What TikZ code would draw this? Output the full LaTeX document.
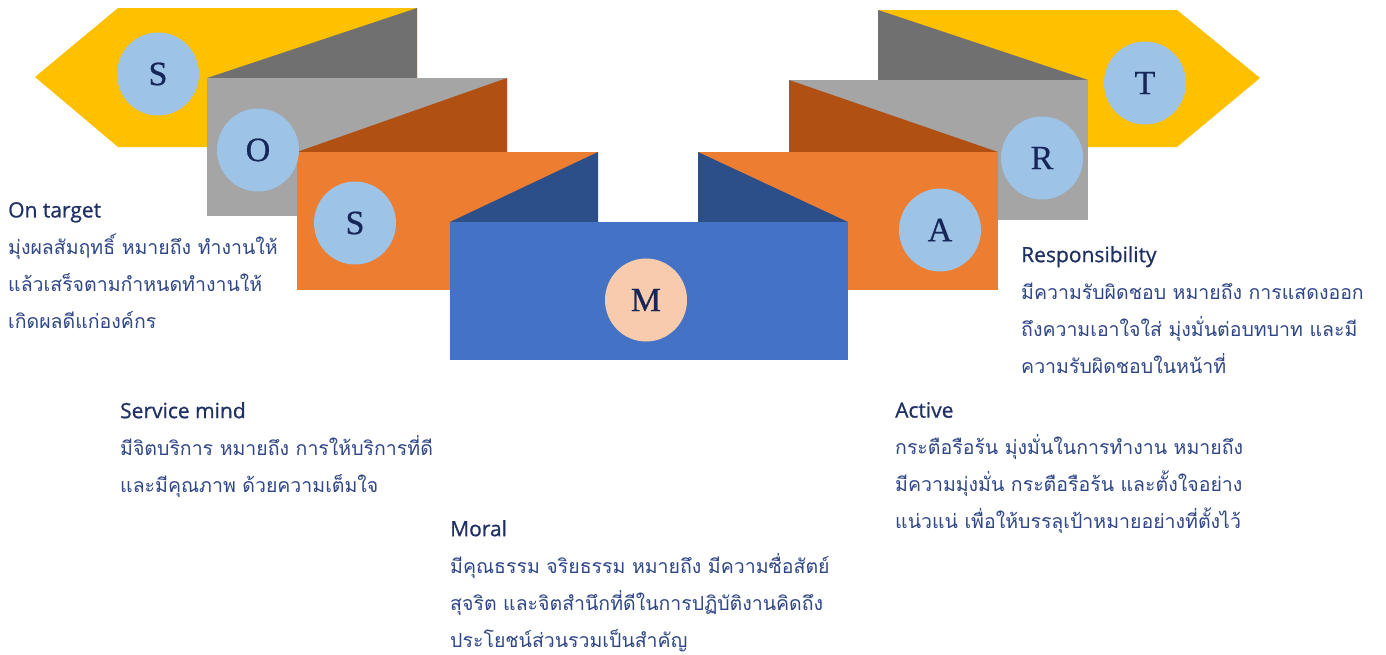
\documentclass[tikz,border=0pt]{standalone}
\usepackage{fontspec}
\usepackage{xcolor}
\usepackage{tikz}
\usetikzlibrary{shapes.geometric, positioning, calc}
\setmainfont{Open Sans}
\newfontfamily\headfont[FakeBold=0.8]{Open Sans}
\newfontfamily\thaifont[Script=Thai]{Loma}
\newfontfamily\letterfont[FakeBold=0.6]{Liberation Serif}
\definecolor{foldyellow}{RGB}{255, 192, 0}
\definecolor{foldgray}{RGB}{165, 165, 165}
\definecolor{foldgraydark}{RGB}{112, 112, 112}
\definecolor{foldorange}{RGB}{237, 125, 49}
\definecolor{foldorangedark}{RGB}{176, 80, 18}
\definecolor{foldblue}{RGB}{68, 114, 196}
\definecolor{foldbluedark}{RGB}{44, 78, 137}
\definecolor{badgeblue}{RGB}{157, 195, 230}
\definecolor{badgepeach}{RGB}{248, 203, 173}
\definecolor{letternavy}{RGB}{22, 38, 88}
\definecolor{navytext}{RGB}{31, 48, 100}
\definecolor{bodytext}{RGB}{47, 70, 135}

\newcommand{\headline}[1]{{\headfont\fontsize{21}{37}\selectfont\color{navytext}#1}}

\begin{document}
\begin{tikzpicture}[x=1pt, y=-1pt,
    badge/.style={ellipse, fill=badgeblue, minimum width=82, minimum height=83, inner sep=0pt,
        text=letternavy, font=\letterfont\fontsize{34}{34}\selectfont},
    desc/.style={anchor=north west, inner sep=0pt, align=left, text=bodytext,
        font=\thaifont\fontsize{19.5}{37}\selectfont}]
    \useasboundingbox (0,0) rectangle (1386,654);

    % left side, back to front
    \fill[foldyellow] (35,77) -- (118,8) -- (417,8) -- (417,147) -- (118,147) -- cycle;
    \fill[foldgraydark] (207,78) -- (417,8) -- (417,78) -- cycle;
    \fill[foldgray] (207,78) rectangle (507,216);
    \fill[foldorangedark] (297,152) -- (507,78) -- (507,152) -- cycle;
    \fill[foldorange] (297,152) rectangle (598,290);
    \fill[foldbluedark] (450,222) -- (598,152) -- (598,222) -- cycle;

    % right side, back to front
    \fill[foldyellow] (1260,78) -- (1177,10) -- (878,10) -- (878,147) -- (1177,147) -- cycle;
    \fill[foldgraydark] (1088,80) -- (878,10) -- (878,80) -- cycle;
    \fill[foldgray] (789,80) rectangle (1088,220);
    \fill[foldorangedark] (998,152) -- (789,80) -- (789,152) -- cycle;
    \fill[foldorange] (698,152) rectangle (998,290);
    \fill[foldbluedark] (848,222) -- (698,152) -- (698,222) -- cycle;

    % middle panel
    \fill[foldblue] (450,222) rectangle (848,360);

    % letters
    \foreach \name/\letter/\cx/\cy in {s1/S/158/74, o/O/258/150, s2/S/355/223,
                                        t/T/1145/83, r/R/1042/158, a/A/940/230} {
        \node[badge] (\name) at (\cx,\cy) {\letter};
    }
    \node[badge, fill=badgepeach] (m) at (646,300) {M};

    % texts
    \node[desc] (ontarget) at (8,202)
        {\headline{On target}\\มุ่งผลสัมฤทธิ์ หมายถึง ทำงานให้\\แล้วเสร็จตามกำหนดทำงานให้\\เกิดผลดีแก่องค์กร};

    \node[desc] (service) at (120,402)
        {\headline{Service mind}\\มีจิตบริการ หมายถึง การให้บริการที่ดี\\และมีคุณภาพ ด้วยความเต็มใจ};

    \node[desc] (moral) at (450,520)
        {\headline{Moral}\\มีคุณธรรม จริยธรรม หมายถึง มีความซื่อสัตย์\\สุจริต และจิตสำนึกที่ดีในการปฏิบัติงานคิดถึง\\ประโยชน์ส่วนรวมเป็นสำคัญ};

    \node[desc] (responsibility) at (1021,246)
        {\headline{Responsibility}\\มีความรับผิดชอบ หมายถึง การแสดงออก\\ถึงความเอาใจใส่ มุ่งมั่นต่อบทบาท และมี\\ความรับผิดชอบในหน้าที่};

    \node[desc] (active) at (895,402)
        {\headline{Active}\\กระตือรือร้น มุ่งมั่นในการทำงาน หมายถึง\\มีความมุ่งมั่น กระตือรือร้น และตั้งใจอย่าง\\แน่วแน่ เพื่อให้บรรลุเป้าหมายอย่างที่ตั้งไว้};
\end{tikzpicture}
\end{document}
